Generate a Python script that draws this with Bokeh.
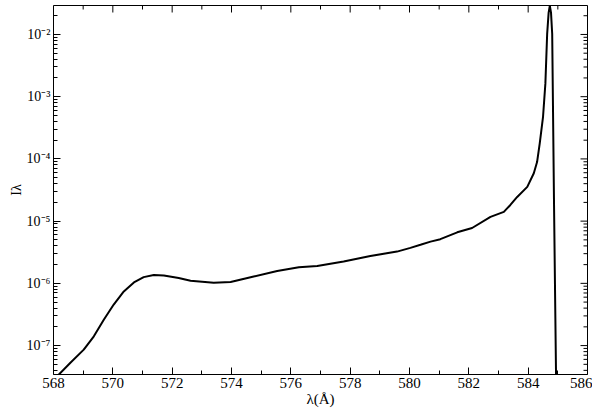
import math
from bokeh.plotting import figure
from bokeh.models import FixedTicker, CustomJSTickFormatter, Range1d
from bokeh.embed import file_html
from bokeh.resources import INLINE

# wavelength (Angstrom) and intensity
wavelength = [568.00, 568.12, 568.57, 569.02, 569.36, 569.70, 570.03, 570.37, 570.71,
              571.04, 571.38, 571.72, 572.22, 572.62, 573.40, 573.97, 574.75, 575.54,
              576.27, 576.89, 577.78, 578.68, 579.58, 580.03, 580.37, 580.71, 581.04,
              581.61, 582.11, 582.73, 583.18, 583.40, 583.63, 583.97, 584.19, 584.30,
              584.39, 584.50, 584.58, 584.64, 584.69, 584.73, 584.77, 584.81, 584.87,
              584.94, 584.96]
intensity = [2.2e-8, 3.2e-8, 5.3e-8, 8.6e-8, 1.41e-7, 2.63e-7, 4.57e-7, 7.41e-7, 1.035e-6,
             1.26e-6, 1.36e-6, 1.34e-6, 1.22e-6, 1.10e-6, 1.02e-6, 1.05e-6, 1.29e-6, 1.58e-6,
             1.82e-6, 1.90e-6, 2.24e-6, 2.75e-6, 3.24e-6, 3.72e-6, 4.17e-6, 4.68e-6, 5.13e-6,
             6.61e-6, 7.76e-6, 1.17e-5, 1.41e-5, 1.82e-5, 2.45e-5, 3.55e-5, 5.89e-5, 8.9e-5,
             1.78e-4, 4.68e-4, 1.62e-3, 1.02e-2, 2.24e-2, 2.9e-2, 2.24e-2, 1.02e-2, 2.19e-5,
             3.16e-8, 1.0e-8]

x_major = [568, 570, 572, 574, 576, 578, 580, 582, 584, 586]
x_minor = [569, 571, 573, 575, 577, 579, 581, 583, 585]
y_major = [1e-7, 1e-6, 1e-5, 1e-4, 1e-3, 1e-2]
y_minor = [m * d for d in [1e-8, 1e-7, 1e-6, 1e-5, 1e-4, 1e-3, 1e-2] for m in range(2, 10)]

FONT = "Liberation Serif"
X0, X1 = 568, 586
Y0, Y1 = 3.43e-8, 2.92e-2

p = figure(width=592, height=409, output_backend="svg", toolbar_location=None,
           y_axis_type="log", x_range=Range1d(X0, X1), y_range=Range1d(Y0, Y1),
           min_border_left=53, min_border_right=5, min_border_top=5, min_border_bottom=34,
           x_axis_label="λ(Å)", y_axis_label="Iλ")
p.outline_line_color = "black"
p.outline_line_width = 1
p.grid.visible = False
p.background_fill_color = "white"
p.border_fill_color = "white"

p.line(wavelength, intensity, line_color="black", line_width=2)

xt = FixedTicker(ticks=x_major, minor_ticks=x_minor)
yt = FixedTicker(ticks=y_major, minor_ticks=y_minor)
yfmt = CustomJSTickFormatter(code="""
const e = Math.round(Math.log10(tick));
const sup = {"-": "\u207b", "0": "\u2070", "1": "\u00b9", "2": "\u00b2", "3": "\u00b3",
             "4": "\u2074", "5": "\u2075", "6": "\u2076", "7": "\u2077", "8": "\u2078", "9": "\u2079"};
return "10" + String(e).split("").map(c => sup[c]).join("");
""")

for ax in (p.xaxis[0], p.yaxis[0]):
    ax.axis_line_color = None
    ax.major_tick_in = 7
    ax.major_tick_out = 0
    ax.minor_tick_in = 4
    ax.minor_tick_out = 0
    ax.major_tick_line_color = "black"
    ax.minor_tick_line_color = "black"
    ax.major_label_text_font = FONT
    ax.major_label_text_color = "black"
    ax.axis_label_text_font = FONT
    ax.axis_label_text_font_size = "15px"
    ax.axis_label_text_font_style = "normal"
    ax.axis_label_text_color = "black"

p.xaxis.ticker = xt
p.yaxis.ticker = yt
p.yaxis.formatter = yfmt
p.xaxis.major_label_text_font_size = "15px"
p.yaxis.major_label_text_font_size = "14px"
p.yaxis.axis_label_text_font_size = "14px"
p.xaxis.major_label_standoff = 3
p.xaxis.axis_label_standoff = 0
p.yaxis.major_label_standoff = 3
p.yaxis.axis_label_standoff = 0

# mirrored inward ticks on top and right edges
kw = dict(line_color="black", line_width=1, length_units="screen")
p.ray(x=x_major, y=[Y1] * len(x_major), length=7, angle=-math.pi / 2, **kw)
p.ray(x=x_minor, y=[Y1] * len(x_minor), length=4, angle=-math.pi / 2, **kw)
p.ray(x=[X1] * len(y_major), y=y_major, length=7, angle=math.pi, **kw)
p.ray(x=[X1] * len(y_minor), y=y_minor, length=4, angle=math.pi, **kw)

open("out.html", "w").write(file_html(p, INLINE))
